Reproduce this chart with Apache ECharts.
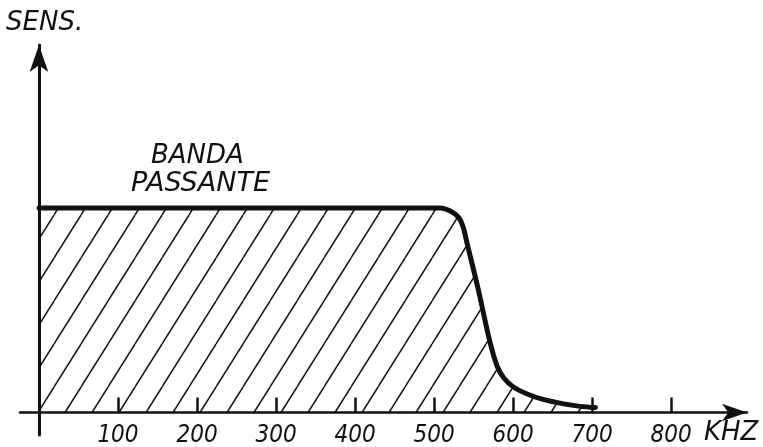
<!DOCTYPE html>
<html>
<head>
<meta charset="utf-8">
<script src="https://cdn.jsdelivr.net/npm/echarts@6/dist/echarts.min.js"></script>
<style>
  html, body { margin: 0; padding: 0; background: #fff; }
  #BandaPassante { width: 763px; height: 447px; }
</style>
</head>
<body>
<div id="BandaPassante"></div>
<script>
// frequenza (kHz) e sensibilità relativa
const freq = [0, 508, 522, 531, 537, 541, 556, 571, 580, 588, 600, 617, 638, 664, 685, 704];
const sens = [1, 1, 0.982, 0.955, 0.905, 0.84, 0.6, 0.34, 0.225, 0.17, 0.126, 0.092, 0.064, 0.042, 0.03, 0.024];
const tickValues = [100, 200, 300, 400, 500, 600, 700, 800];

const ink = '#111';
const font = '"DejaVu Sans Condensed", "DejaVu Sans", sans-serif';

// tratteggio diagonale dell'area
function hatch() {
    const c = document.createElement('canvas');
    c.width = 27; c.height = 43;
    const g = c.getContext('2d');
    g.strokeStyle = ink;
    g.lineWidth = 1.5;
    [-27, 0, 27].forEach(function (dx) {
        g.beginPath();
        g.moveTo(dx, 43);
        g.lineTo(dx + 27, 0);
        g.stroke();
    });
    return c;
}

const myChart = echarts.init(document.getElementById('BandaPassante'), null, { renderer: 'canvas' });

function txt(x, y, text, size) {
    return {
        type: 'text', x: x, y: y,
        style: { text: text, fill: ink, font: 'italic ' + size + 'px "DejaVu Sans", sans-serif', verticalAlign: 'top' }
    };
}

const option = {
    animation: false,
    backgroundColor: '#fff',
    grid: { left: 20, right: 16, top: 45, bottom: 12, containLabel: false, outerBoundsMode: 'none' },
    xAxis: {
        type: 'value',
        min: -24,
        max: 896,
        splitLine: { show: false },
        axisLine: {
            onZero: true,
            symbol: ['none', 'arrow'],
            symbolSize: [13, 25],
            lineStyle: { color: ink, width: 2.5 }
        },
        axisTick: {
            show: true,
            inside: true,
            length: 15,
            customValues: tickValues,
            lineStyle: { color: ink, width: 2.5 }
        },
        axisLabel: {
            customValues: tickValues,
            margin: -11,
            color: ink,
            fontStyle: 'italic',
            fontSize: 24,
            fontFamily: font
        }
    },
    yAxis: {
        type: 'value',
        min: -0.11,
        max: 1.797,
        splitLine: { show: false },
        axisLine: {
            show: true,
            onZero: true,
            symbol: ['none', 'arrow'],
            symbolSize: [14, 27],
            lineStyle: { color: ink, width: 3 }
        },
        axisTick: { show: false },
        axisLabel: { show: false }
    },
    graphic: [
        txt(6, 10, 'SENS.', 26),
        txt(151, 143, 'BANDA', 26),
        txt(131, 170, 'PASSANTE', 27),
        txt(704, 420, 'KHZ', 26)
    ],
    series: [{
        type: 'line',
        data: freq.map(function (f, i) { return [f, sens[i]]; }),
        smooth: 0.35,
        symbol: 'none',
        lineStyle: { color: ink, width: 5, cap: 'round', join: 'round' },
        areaStyle: { color: { image: hatch(), repeat: 'repeat' }, opacity: 1 },
        z: 3
    }]
};
myChart.setOption(option);
</script>
</body>
</html>
